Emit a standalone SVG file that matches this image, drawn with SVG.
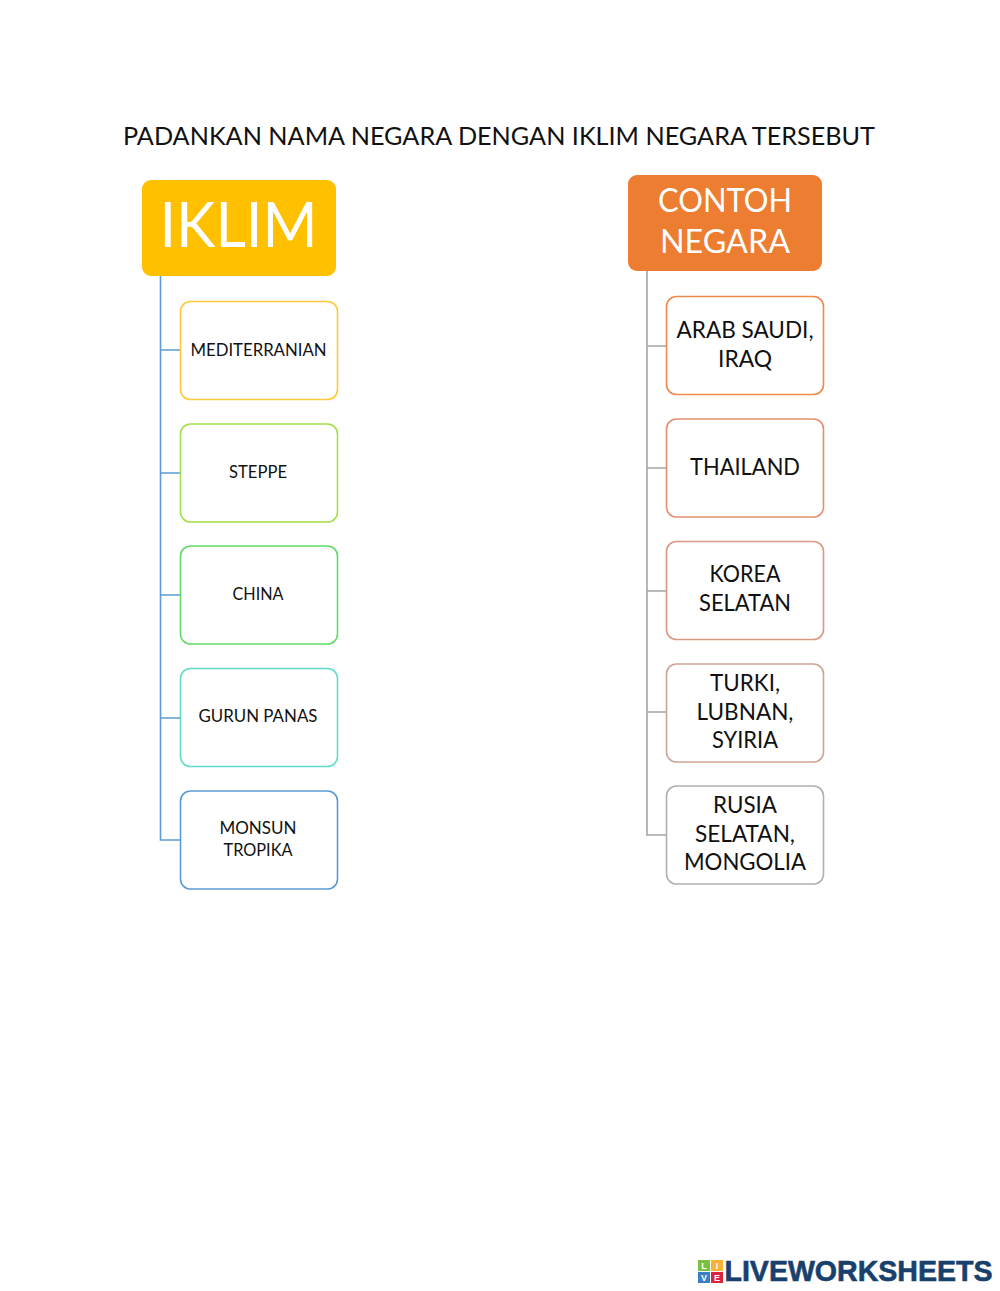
<svg xmlns="http://www.w3.org/2000/svg" width="1000" height="1291" viewBox="0 0 1000 1291">
<style>
text{font-family:Lato,"Open Sans",sans-serif;text-anchor:middle;fill:#111}
.l{font-size:17px}.r{font-size:23px}
.b{fill:#fff;stroke-width:1.6}
.c{fill:none;stroke-width:1.6}
.h{fill:#fff}
.k{font-size:9px;font-weight:700;fill:#fff;font-family:"Liberation Sans",sans-serif}
</style>
<rect width="1000" height="1291" fill="#fff"/>
<text id="title" x="499" y="145" font-size="25" textLength="752" lengthAdjust="spacingAndGlyphs">PADANKAN NAMA NEGARA DENGAN IKLIM NEGARA TERSEBUT</text>
<g id="connectors">
<path class="c" stroke="#5b9bd5" d="M160.500 276V840H180M160.500 350H180M160.500 473H180M160.500 595H180M160.500 718H180"/>
<path class="c" stroke="#a5a5a5" d="M647 271V835H666M647 346H666M647 468H666M647 591H666M647 712H666"/>
</g>
<g id="iklim"><rect x="142" y="180" width="194" height="96" rx="9" fill="#ffc000"/><text class="h" x="238.500" y="247" font-size="62" textLength="158" lengthAdjust="spacingAndGlyphs">IKLIM</text></g>
<g id="contoh"><rect x="628" y="175" width="194" height="96" rx="9" fill="#ed7d31"/><text class="h" x="725" y="212" font-size="33" textLength="134" lengthAdjust="spacingAndGlyphs">CONTOH</text><text class="h" x="725" y="253" font-size="33" textLength="130" lengthAdjust="spacingAndGlyphs">NEGARA</text></g>
<g id="l1"><rect class="b" x="180.500" y="301.500" width="157" height="98" rx="10" stroke="#ffc83d"/><text class="l" x="258.500" y="356" textLength="136" lengthAdjust="spacingAndGlyphs">MEDITERRANIAN</text></g>
<g id="l2"><rect class="b" x="180.500" y="424" width="157" height="98" rx="10" stroke="#a2e04a"/><text class="l" x="258" y="478" textLength="58" lengthAdjust="spacingAndGlyphs">STEPPE</text></g>
<g id="l3"><rect class="b" x="180.500" y="546" width="157" height="98" rx="10" stroke="#5fdc68"/><text class="l" x="258" y="600" textLength="51" lengthAdjust="spacingAndGlyphs">CHINA</text></g>
<g id="l4"><rect class="b" x="180.500" y="668.500" width="157" height="98" rx="10" stroke="#62dcc8"/><text class="l" x="258" y="722" textLength="119" lengthAdjust="spacingAndGlyphs">GURUN PANAS</text></g>
<g id="l5"><rect class="b" x="180.500" y="791" width="157" height="98" rx="10" stroke="#5b9bd5"/><text class="l" x="258" y="834" textLength="77" lengthAdjust="spacingAndGlyphs">MONSUN</text><text class="l" x="258" y="856" textLength="69" lengthAdjust="spacingAndGlyphs">TROPIKA</text></g>
<g id="r1"><rect class="b" x="666.500" y="296.500" width="157" height="98" rx="10" stroke="#ed8a4c"/><text class="r" x="745" y="338" textLength="137" lengthAdjust="spacingAndGlyphs">ARAB SAUDI,</text><text class="r" x="745" y="367" textLength="54" lengthAdjust="spacingAndGlyphs">IRAQ</text></g>
<g id="r2"><rect class="b" x="666.500" y="419" width="157" height="98" rx="10" stroke="#e29070"/><text class="r" x="745" y="475" textLength="110" lengthAdjust="spacingAndGlyphs">THAILAND</text></g>
<g id="r3"><rect class="b" x="666.500" y="541.500" width="157" height="98" rx="10" stroke="#d89a80"/><text class="r" x="745" y="582" textLength="71" lengthAdjust="spacingAndGlyphs">KOREA</text><text class="r" x="745" y="611" textLength="92" lengthAdjust="spacingAndGlyphs">SELATAN</text></g>
<g id="r4"><rect class="b" x="666.500" y="664" width="157" height="98" rx="10" stroke="#cda595"/><text class="r" x="745" y="691" textLength="70" lengthAdjust="spacingAndGlyphs">TURKI,</text><text class="r" x="745" y="720" textLength="97" lengthAdjust="spacingAndGlyphs">LUBNAN,</text><text class="r" x="745" y="748" textLength="66" lengthAdjust="spacingAndGlyphs">SYIRIA</text></g>
<g id="r5"><rect class="b" x="666.500" y="786" width="157" height="98" rx="10" stroke="#b0b0b0"/><text class="r" x="745" y="813" textLength="64" lengthAdjust="spacingAndGlyphs">RUSIA</text><text class="r" x="745" y="842" textLength="100" lengthAdjust="spacingAndGlyphs">SELATAN,</text><text class="r" x="745" y="870" textLength="122" lengthAdjust="spacingAndGlyphs">MONGOLIA</text></g>
<g id="logo">
<rect x="698" y="1260" width="12" height="11" fill="#7ac143"/><rect x="711" y="1260" width="12" height="11" fill="#f9b233"/><rect x="698" y="1272" width="12" height="11" fill="#3a7fc4"/><rect x="711" y="1272" width="12" height="11" fill="#d9263c"/>
<text class="k" x="704" y="1269">L</text><text class="k" x="717" y="1269">I</text><text class="k" x="704" y="1281">V</text><text class="k" x="717" y="1281">E</text>
<text x="858.500" y="1281" font-size="29" font-weight="700" textLength="268" lengthAdjust="spacingAndGlyphs" style="font-family:'Liberation Sans',sans-serif;fill:#17406d;stroke:#17406d;stroke-width:.6">LIVEWORKSHEETS</text>
</g>
</svg>
